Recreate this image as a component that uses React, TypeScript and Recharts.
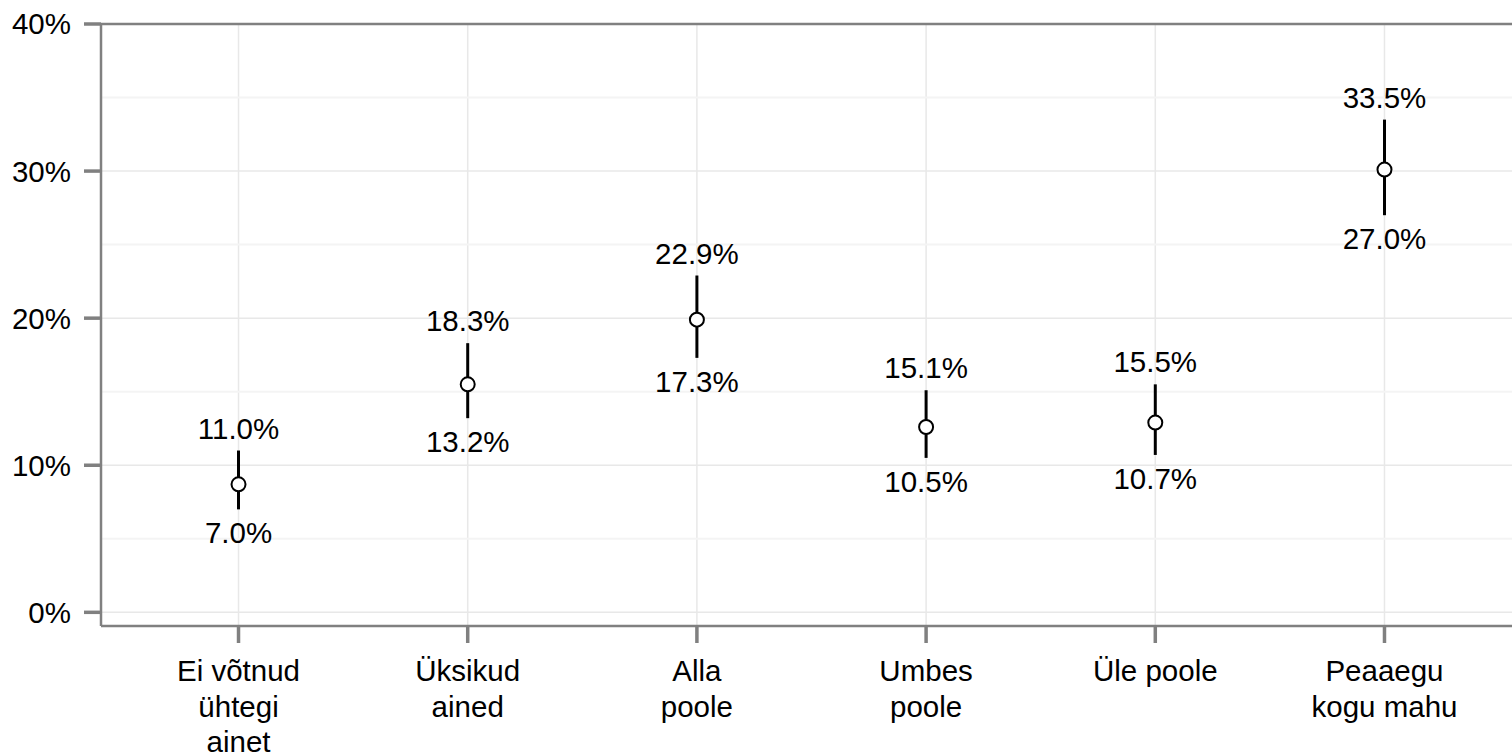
import React from "react";
import {
  ScatterChart,
  Scatter,
  XAxis,
  YAxis,
  CartesianGrid,
  ErrorBar,
  ReferenceLine,
} from "recharts";

const categories = [
  "Ei võtnud\nühtegi\nainet",
  "Üksikud\nained",
  "Alla\npoole",
  "Umbes\npoole",
  "Üle poole",
  "Peaaegu\nkogu mahu",
];
const estimate = [8.7, 15.5, 19.9, 12.6, 12.9, 30.1];
const upper = [11.0, 18.3, 22.9, 15.1, 15.5, 33.5];
const lower = [7.0, 13.2, 17.3, 10.5, 10.7, 27.0];
const yTicks = [0, 10, 20, 30, 40];
const minorTicks = [5, 15, 25, 35];

const AXIS = "#808080";
const FONT = 29.5;

const points = categories.map((_, i) => ({
  x: i + 1,
  y: estimate[i],
  err: [estimate[i] - lower[i], upper[i] - estimate[i]],
}));
const highs = categories.map((_, i) => ({ x: i + 1, y: upper[i] }));
const lows = categories.map((_, i) => ({ x: i + 1, y: lower[i] }));

const fmt = (v: number) => `${v.toFixed(1)}%`;

const CategoryTick = (props: any) => {
  const { x, y, payload } = props;
  const lines = categories[payload.value - 1].split("\n");
  return (
    <text x={x} y={y} textAnchor="middle" fontSize={FONT} fill="#000">
      {lines.map((l, i) => (
        <tspan key={i} x={x} dy={i === 0 ? 38 : 35.5}>
          {l}
        </tspan>
      ))}
    </text>
  );
};

const Dot = (props: any) => (
  <circle cx={props.cx} cy={props.cy} r={7} fill="#fff" stroke="#000" strokeWidth={2} />
);

const HighLabel = (props: any) => (
  <text x={props.cx} y={props.cy - 12} textAnchor="middle" fontSize={FONT} fill="#000">
    {fmt(props.payload.y)}
  </text>
);

const LowLabel = (props: any) => (
  <text x={props.cx} y={props.cy + 34} textAnchor="middle" fontSize={FONT} fill="#000">
    {fmt(props.payload.y)}
  </text>
);

export default function App() {
  return (
    <div
      style={{
        position: "absolute",
        left: 0,
        top: 0,
        width: 1512,
        height: 755,
        overflow: "hidden",
        background: "#fff",
        fontFamily: "Arial, 'Liberation Sans', sans-serif",
      }}
    >
      <ScatterChart
        width={1540}
        height={755}
        margin={{ top: 24, right: 18, bottom: 0, left: 0 }}
      >
        <CartesianGrid stroke="#e8e8e8" strokeWidth={1.5} />
        {minorTicks.map((v) => (
          <ReferenceLine key={v} y={v} stroke="#f4f4f4" strokeWidth={2} />
        ))}
        <ReferenceLine y={40} stroke={AXIS} strokeWidth={2.5} />
        <XAxis
          type="number"
          dataKey="x"
          domain={[0.4, 6.6]}
          ticks={[1, 2, 3, 4, 5, 6]}
          interval={0}
          allowDataOverflow
          height={129}
          tickSize={17}
          tickMargin={0}
          axisLine={{ stroke: AXIS, strokeWidth: 2.5 }}
          tickLine={{ stroke: AXIS, strokeWidth: 3.5 }}
          tick={<CategoryTick />}
        />
        <YAxis
          type="number"
          dataKey="y"
          domain={[-0.93, 40]}
          ticks={yTicks}
          allowDataOverflow
          width={101}
          tickSize={17}
          tickMargin={13}
          tickFormatter={(v: number) => `${v}%`}
          axisLine={{ stroke: AXIS, strokeWidth: 2.5 }}
          tickLine={{ stroke: AXIS, strokeWidth: 3.5 }}
          tick={{ fill: "#000", fontSize: FONT }}
        />
        <Scatter data={points} shape={<Dot />} isAnimationActive={false}>
          <ErrorBar dataKey="err" direction="y" width={0} stroke="#000" strokeWidth={3} />
        </Scatter>
        <Scatter data={highs} shape={<HighLabel />} isAnimationActive={false} />
        <Scatter data={lows} shape={<LowLabel />} isAnimationActive={false} />
      </ScatterChart>
    </div>
  );
}
